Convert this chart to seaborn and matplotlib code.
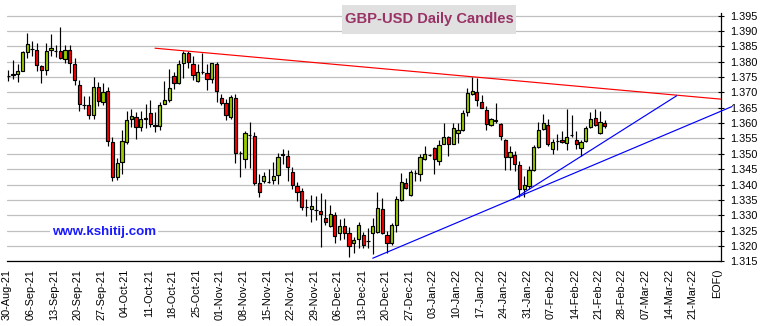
import numpy as np
import matplotlib
matplotlib.use("Agg")
import matplotlib.pyplot as plt
from matplotlib.patches import Rectangle
import seaborn as sns

# Daily GBP-USD candles, one entry per trading day starting Mon 30-Aug-2021
opens = [
    1.3753, 1.3758, 1.3760, 1.3771, 1.3832, 1.3841, 1.3838, 1.3785, 1.3772, 1.3838,
    1.3835, 1.3835, 1.3810, 1.3838, 1.3793, 1.3723, 1.3660, 1.3658, 1.3625, 1.3717,
    1.3669, 1.3703, 1.3539, 1.3426, 1.3472, 1.3538, 1.3613, 1.3621, 1.3587, 1.3614,
    1.3634, 1.3593, 1.3590, 1.3663, 1.3674, 1.3752, 1.3732, 1.3795, 1.3827, 1.3794,
    1.3738, 1.3767, 1.3764, 1.3743, 1.3793, 1.3681, 1.3667, 1.3620, 1.3681, 1.3503,
    1.3484, 1.3561, 1.3557, 1.3405, 1.3410, 1.3408, 1.3416, 1.3430, 1.3498, 1.3493,
    1.3441, 1.3396, 1.3379, 1.3326, 1.3320, 1.3318, 1.3314, 1.3290, 1.3266, 1.3301,
    1.3241, 1.3264, 1.3241, 1.3209, 1.3222, 1.3235, 1.3216, 1.3241, 1.3247, 1.3321,
    1.3235, 1.3209, 1.3268, 1.3350, 1.3405, 1.3366, 1.3437, 1.3434, 1.3483, 1.3496,
    1.3519, 1.3478, 1.3533, 1.3555, 1.3532, 1.3568, 1.3577, 1.3636, 1.3696, 1.3702,
    1.3668, 1.3644, 1.3595, 1.3608, 1.3598, 1.3546, 1.3489, 1.3497, 1.3464, 1.3385,
    1.3396, 1.3446, 1.3522, 1.3581, 1.3593, 1.3516, 1.3541, 1.3544, 1.3535, 1.3560,
    1.3544, 1.3519, 1.3541, 1.3588, 1.3617, 1.3568, 1.3601,
]
highs = [
    1.3774, 1.3807, 1.3791, 1.3834, 1.3892, 1.3869, 1.3860, 1.3789, 1.3860, 1.3889,
    1.3853, 1.3914, 1.3856, 1.3856, 1.3813, 1.3742, 1.3689, 1.3689, 1.3750, 1.3734,
    1.3730, 1.3719, 1.3555, 1.3486, 1.3576, 1.3641, 1.3647, 1.3636, 1.3641, 1.3661,
    1.3674, 1.3637, 1.3669, 1.3738, 1.3776, 1.3765, 1.3806, 1.3836, 1.3836, 1.3817,
    1.3794, 1.3830, 1.3793, 1.3796, 1.3800, 1.3695, 1.3680, 1.3690, 1.3695, 1.3509,
    1.3575, 1.3605, 1.3572, 1.3435, 1.3441, 1.3451, 1.3474, 1.3502, 1.3515, 1.3512,
    1.3458, 1.3408, 1.3389, 1.3352, 1.3366, 1.3363, 1.3372, 1.3352, 1.3334, 1.3312,
    1.3288, 1.3290, 1.3263, 1.3230, 1.3277, 1.3247, 1.3258, 1.3292, 1.3377, 1.3355,
    1.3250, 1.3274, 1.3363, 1.3439, 1.3421, 1.3448, 1.3448, 1.3501, 1.3525, 1.3501,
    1.3521, 1.3544, 1.3601, 1.3559, 1.3601, 1.3599, 1.3644, 1.3713, 1.3751, 1.3746,
    1.3690, 1.3655, 1.3617, 1.3664, 1.3601, 1.3548, 1.3524, 1.3508, 1.3478, 1.3428,
    1.3459, 1.3528, 1.3603, 1.3631, 1.3614, 1.3548, 1.3566, 1.3574, 1.3645, 1.3628,
    1.3574, 1.3546, 1.3590, 1.3636, 1.3645, 1.3641, 1.3610,
]
lows = [
    1.3736, 1.3745, 1.3733, 1.3769, 1.3813, 1.3818, 1.3769, 1.3731, 1.3758, 1.3818,
    1.3816, 1.3809, 1.3796, 1.3764, 1.3725, 1.3641, 1.3646, 1.3613, 1.3613, 1.3657,
    1.3660, 1.3525, 1.3413, 1.3415, 1.3435, 1.3533, 1.3587, 1.3549, 1.3574, 1.3585,
    1.3587, 1.3571, 1.3576, 1.3661, 1.3669, 1.3712, 1.3727, 1.3748, 1.3781, 1.3740,
    1.3734, 1.3759, 1.3708, 1.3730, 1.3670, 1.3660, 1.3610, 1.3615, 1.3471, 1.3426,
    1.3454, 1.3454, 1.3398, 1.3361, 1.3405, 1.3405, 1.3402, 1.3402, 1.3468, 1.3410,
    1.3386, 1.3345, 1.3317, 1.3298, 1.3279, 1.3285, 1.3198, 1.3268, 1.3263, 1.3211,
    1.3220, 1.3223, 1.3165, 1.3176, 1.3192, 1.3192, 1.3192, 1.3174, 1.3243, 1.3239,
    1.3176, 1.3203, 1.3245, 1.3347, 1.3385, 1.3363, 1.3413, 1.3410, 1.3481, 1.3492,
    1.3434, 1.3462, 1.3532, 1.3492, 1.3532, 1.3536, 1.3574, 1.3623, 1.3693, 1.3655,
    1.3648, 1.3577, 1.3590, 1.3601, 1.3546, 1.3448, 1.3446, 1.3443, 1.3361, 1.3361,
    1.3385, 1.3443, 1.3519, 1.3579, 1.3524, 1.3500, 1.3514, 1.3535, 1.3514, 1.3555,
    1.3516, 1.3492, 1.3538, 1.3584, 1.3592, 1.3565, 1.3584,
]
closes = [
    1.3754, 1.3759, 1.3771, 1.3832, 1.3859, 1.3840, 1.3789, 1.3774, 1.3836, 1.3845,
    1.3834, 1.3813, 1.3838, 1.3796, 1.3742, 1.3662, 1.3658, 1.3625, 1.3717, 1.3673,
    1.3702, 1.3541, 1.3426, 1.3470, 1.3543, 1.3609, 1.3624, 1.3587, 1.3614, 1.3617,
    1.3598, 1.3592, 1.3660, 1.3674, 1.3716, 1.3732, 1.3794, 1.3827, 1.3798, 1.3757,
    1.3768, 1.3766, 1.3743, 1.3795, 1.3706, 1.3667, 1.3625, 1.3684, 1.3502, 1.3502,
    1.3568, 1.3562, 1.3405, 1.3375, 1.3427, 1.3407, 1.3429, 1.3491, 1.3495, 1.3458,
    1.3399, 1.3377, 1.3328, 1.3327, 1.3329, 1.3317, 1.3303, 1.3279, 1.3303, 1.3234,
    1.3264, 1.3243, 1.3201, 1.3220, 1.3268, 1.3202, 1.3217, 1.3265, 1.3323, 1.3243,
    1.3209, 1.3268, 1.3352, 1.3407, 1.3388, 1.3441, 1.3438, 1.3490, 1.3499, 1.3497,
    1.3483, 1.3528, 1.3555, 1.3532, 1.3584, 1.3579, 1.3634, 1.3699, 1.3703, 1.3675,
    1.3650, 1.3597, 1.3612, 1.3609, 1.3557, 1.3489, 1.3506, 1.3467, 1.3385, 1.3399,
    1.3448, 1.3522, 1.3579, 1.3599, 1.3533, 1.3538, 1.3542, 1.3538, 1.3555, 1.3561,
    1.3532, 1.3539, 1.3584, 1.3614, 1.3595, 1.3603, 1.3592,
]

week_labels = [
    "30-Aug-21", "06-Sep-21", "13-Sep-21", "20-Sep-21", "27-Sep-21", "04-Oct-21",
    "11-Oct-21", "18-Oct-21", "25-Oct-21", "01-Nov-21", "08-Nov-21", "15-Nov-21",
    "22-Nov-21", "29-Nov-21", "06-Dec-21", "13-Dec-21", "20-Dec-21", "27-Dec-21",
    "03-Jan-22", "10-Jan-22", "17-Jan-22", "24-Jan-22", "31-Jan-22", "07-Feb-22",
    "14-Feb-22", "21-Feb-22", "28-Feb-22", "07-Mar-22", "14-Mar-22", "21-Mar-22",
    "EOF()",
]

# Trend lines as (day index, price) end points
resist_x = [31.0, 150.6]
resist_y = [1.3844, 1.3678]
support_x = [77.0, 152.9]
support_y = [1.3160, 1.3654]
steep_x = [106.7, 141.2]
steep_y = [1.3352, 1.3689]

y_ticks = [1.315 + 0.005 * k for k in range(17)]

sns.set_style("white")
plt.rcParams["font.family"] = ["Liberation Sans", "DejaVu Sans"]

W, H = 760, 326
fig = plt.figure(figsize=(W / 100, H / 100), dpi=100)
ax_left, ax_right = 6.7, 721.0
ax_top, ax_bottom = 13.2, 261.3
ax = fig.add_axes([ax_left / W, 1 - ax_bottom / H,
                   (ax_right - ax_left) / W, (ax_bottom - ax_top) / H])

o = np.array(opens)
h = np.array(highs)
l = np.array(lows)
c = np.array(closes)
x = np.arange(len(o))

up = c >= o
body_lo = np.minimum(o, c)
body_hi = np.maximum(o, c)
colors = np.where(up, "#99cc00", "#ff0000")

ax.vlines(x, l, h, color="black", linewidth=0.85, zorder=3)
ax.bar(x, body_hi - body_lo, bottom=body_lo, width=0.68, color=colors,
       edgecolor="black", linewidth=0.85, zorder=4)

sns.lineplot(x=resist_x, y=resist_y, ax=ax, color="#ff0000", linewidth=0.85,
             zorder=5)
sns.lineplot(x=support_x, y=support_y, ax=ax, color="#0000ff", linewidth=0.85,
             zorder=5, clip_on=False)
sns.lineplot(x=steep_x, y=steep_y, ax=ax, color="#0000ff", linewidth=0.85,
             zorder=5)

ax.set_xlim(-0.34, 150.58)
ax.set_ylim(1.315, 1.3958)

tick_pos = [5 * k - 0.34 for k in range(len(week_labels))]
ax.set_xticks(tick_pos)
ax.set_xticklabels(week_labels, rotation=90, fontsize=7.8)
ax.set_yticks(y_ticks)
ax.set_yticklabels([f"{v:.3f}" for v in y_ticks], fontsize=7.8)
ax.yaxis.tick_right()

ax.tick_params(axis="x", direction="inout", length=5, width=0.8, pad=3,
               colors="black")
ax.tick_params(axis="y", direction="inout", length=4, width=0.8, pad=4.5,
               colors="black")

ax.yaxis.grid(True, color="#c0c0c0", linewidth=0.9)
ax.xaxis.grid(False)
ax.set_axisbelow(True)

for side in ("left", "top"):
    ax.spines[side].set_visible(False)
for side in ("right", "bottom"):
    ax.spines[side].set_color("black")
    ax.spines[side].set_linewidth(0.9)

# Title plate
fig.patches.append(Rectangle((342 / W, 1 - 33.7 / H), (516 - 342) / W,
                             (33.7 - 5) / H, transform=fig.transFigure,
                             facecolor="#e0e0e0", edgecolor="none", zorder=10))
fig.text(429 / W, 1 - 19.5 / H, "GBP-USD Daily Candles", ha="center",
         va="center", fontsize=10.6, fontweight="bold", color="#993366",
         zorder=11)

fig.text(104 / W, 1 - 231.7 / H, "www.kshitij.com", ha="center", va="center",
         fontsize=9.6, fontweight="bold", color="#1a1aff", zorder=11,
         bbox=dict(facecolor="white", edgecolor="none", pad=1.5))

fig.savefig("out.png", dpi=100)
